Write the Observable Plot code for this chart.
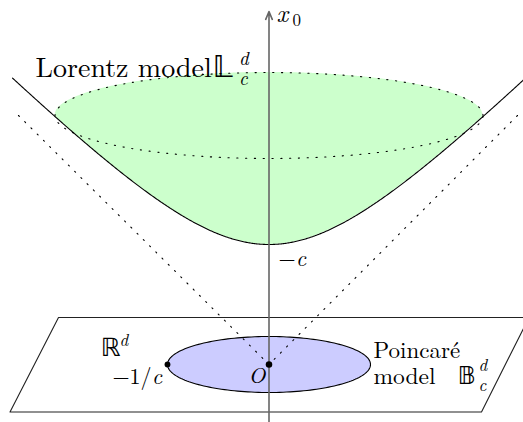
<!DOCTYPE html>
<html><head><meta charset="utf-8">
<script src="https://cdn.jsdelivr.net/npm/d3@7"></script>
<script src="https://cdn.jsdelivr.net/npm/@observablehq/plot@0.6"></script>
<style>
body{margin:0;background:#fff} svg{display:block}
</style>
</head><body>
<div id="chart"></div>
<script>
// ---- Diagram geometry (units: origin O = centre of the Poincaré disk) ----
const hyperbolaA = 1.2;          // vertex height (labelled -c)
const hyperbolaSlope = 1.014;    // asymptotic slope
const hyperbolaX = [-2.565, 2.565];
const lorentzEllipse = [0, 2.49, 2.14, 0.43];   // cx, cy, rx, ry
const poincareDisk = [0, 0, 1.015, 0.28];       // cx, cy, rx, ry
const planeX = [-2.105, 2.60, 2.125, -2.59, -2.105];
const planeY = [0.47, 0.47, -0.475, -0.475, 0.47];
const asymX = [-2.505, 2.485];
const asymY = [2.49, 2.49];
const axisY = [-0.58, 3.53];
const pointX = [0, -1.015];
const pointY = [0, 0];

// labels: text, x, baseline y, size
const romanText = ["Lorentz model", "Poincaré", "model", "0", "−1/", "−"];
const romanX = [-2.335, 1.045, 1.045, 0.235, -1.565, 0.095];
const romanY = [2.88, 0.07, -0.19, 3.39, -0.19, 0.99];
const romanSize = [28, 23, 23.5, 17, 22, 22];
const italicText = ["d", "c", "x", "c", "O", "c", "d", "d", "c"];
const italicX = [-0.30, -0.30, 0.075, 0.27, -0.205, -1.17, -1.495, 2.095, 2.095];
const italicY = [3.00, 2.80, 3.43, 0.99, -0.18, -0.19, 0.19, -0.06, -0.26];
const italicSize = [19, 19, 25, 22, 22, 22, 17, 17, 17];
const bbText = ["𝕃", "ℝ", "𝔹"];
const bbX = [-0.565, -1.685, 1.885];
const bbY = [2.88, 0.09, -0.19];
const bbSize = [31, 25, 25];

// ---- derived tables ----
const hyp = x => Math.sqrt(hyperbolaA ** 2 + (hyperbolaSlope * x) ** 2);
const ellipsePts = ([cx, cy, rx, ry]) =>
  d3.range(0, 361, 2).map(t => ({x: cx + rx * Math.cos(t * Math.PI / 180), y: cy + ry * Math.sin(t * Math.PI / 180)}));
const hypPts = d3.range(hyperbolaX[0], hyperbolaX[1] + 1e-9, 0.01).map(x => ({x, y: hyp(x)}));
const [ecx, ecy, erx, ery] = lorentzEllipse;
const greenPts = d3.range(-erx, erx + 1e-9, erx / 200).map(x => ({
  x, y1: hyp(x), y2: ecy + ery * Math.sqrt(Math.max(0, 1 - ((x - ecx) / erx) ** 2))
}));
const plane = planeX.map((x, i) => ({x, y: planeY[i]}));
const asym = asymX.map((x, i) => ({x1: x, y1: asymY[i], x2: 0, y2: 0}));
const pts = pointX.map((x, i) => ({x, y: pointY[i], r: i === 0 ? 2 : 1.6}));
const mk = (T, X, Y, S) => T.map((t, i) => ({t, x: X[i], y: Y[i], s: S[i]}));
const roman = mk(romanText, romanX, romanY, romanSize);
const italic = mk(italicText, italicX, italicY, italicSize);
const bb = mk(bbText, bbX, bbY, bbSize);

const dotted = {stroke: "#000", strokeWidth: 1.1, strokeDasharray: "1.2,7.6", strokeLinecap: "round"};
const LM = "Latin Modern Roman";
const txt = {x: "x", y: "y", text: "t", fontSize: "s", textAnchor: "start", lineAnchor: "bottom", fill: "#000"};

const chart = Plot.plot({
  width: 523, height: 422, margin: 0,
  x: {domain: [-2.685, 2.545], axis: null},
  y: {domain: [-0.58, 3.64], axis: null},
  marks: [
    Plot.areaY(greenPts, {x: "x", y1: "y1", y2: "y2", fill: "#ccffcc", fillOpacity: 1, curve: "linear"}),
    Plot.line(ellipsePts(lorentzEllipse), {x: "x", y: "y", ...dotted}),
    Plot.line(hypPts, {x: "x", y: "y", stroke: "#000", strokeWidth: 1.1}),
    Plot.line(plane, {x: "x", y: "y", stroke: "#222", strokeWidth: 1.1}),
    Plot.line(ellipsePts(poincareDisk), {x: "x", y: "y", fill: "#ccccff", stroke: "#000", strokeWidth: 1.1}),
    Plot.link(asym, {x1: "x1", y1: "y1", x2: "x2", y2: "y2", ...dotted}),
    Plot.arrow([{y1: axisY[0], y2: axisY[1]}], {x1: 0, x2: 0, y1: "y1", y2: "y2", stroke: "#666", strokeWidth: 1.6, headLength: 8, headAngle: 45}),
    Plot.dot(pts, {x: "x", y: "y", r: "r", fill: "#000", stroke: null}),
    Plot.text(roman, {...txt, fontFamily: LM, className: "lbl-roman"}),
    Plot.text(italic, {...txt, fontFamily: LM, fontStyle: "italic", className: "lbl-italic"}),
    Plot.text(bb, {...txt, fontFamily: "DejaVu Sans", className: "lbl-bb"})
  ]
});
document.getElementById("chart").append(chart);
const svg = d3.select(chart);
svg.selectAll("g.lbl-roman text").style("font-family", "'Latin Modern Roman', 'Liberation Serif', serif");
svg.selectAll("g.lbl-italic text").style("font-family", "'Latin Modern Roman', 'Liberation Serif', serif").style("font-style", "italic");
svg.selectAll("g.lbl-bb text").style("font-family", "'DejaVu Sans', sans-serif");
</script></body></html>
